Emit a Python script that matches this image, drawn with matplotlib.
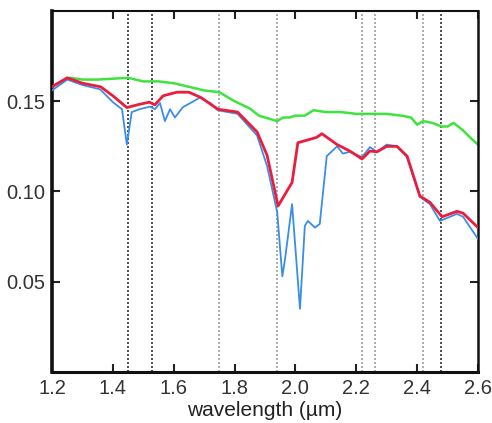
import matplotlib.pyplot as plt

plt.rcParams['font.family'] = ['Liberation Sans', 'DejaVu Sans']

# ====== spectra ======
green_wl = [1.20, 1.23, 1.26, 1.30, 1.35, 1.40, 1.45, 1.50, 1.55, 1.60, 1.65, 1.70,
            1.75, 1.80, 1.85, 1.88, 1.92, 1.94, 1.96, 1.98, 2.00, 2.03, 2.06, 2.10,
            2.15, 2.20, 2.25, 2.30, 2.35, 2.38, 2.40, 2.42, 2.45, 2.48, 2.50, 2.52,
            2.55, 2.58, 2.60]
green_val = [0.158, 0.161, 0.163, 0.162, 0.162, 0.1625, 0.163, 0.161, 0.161, 0.160,
             0.158, 0.156, 0.155, 0.150, 0.146, 0.142, 0.140, 0.139, 0.141, 0.141,
             0.142, 0.142, 0.145, 0.144, 0.144, 0.143, 0.143, 0.143, 0.142, 0.141,
             0.137, 0.139, 0.138, 0.136, 0.136, 0.138, 0.134, 0.129, 0.126]

red_wl = [1.20, 1.25, 1.30, 1.36, 1.40, 1.446, 1.48, 1.52, 1.538, 1.565, 1.61, 1.65,
          1.69, 1.745, 1.81, 1.874, 1.907, 1.943, 1.989, 2.008, 2.07, 2.087, 2.137,
          2.179, 2.219, 2.245, 2.268, 2.30, 2.334, 2.367, 2.409, 2.442, 2.482, 2.531,
          2.551, 2.60]
red_val = [0.158, 0.163, 0.160, 0.158, 0.153, 0.1465, 0.148, 0.1495, 0.148, 0.153,
           0.155, 0.155, 0.152, 0.1456, 0.144, 0.133, 0.120, 0.092, 0.105, 0.127,
           0.130, 0.132, 0.126, 0.1224, 0.118, 0.1224, 0.122, 0.125, 0.125, 0.1196,
           0.0975, 0.094, 0.086, 0.089, 0.088, 0.080]

blue_wl = [1.20, 1.25, 1.30, 1.358, 1.40, 1.43, 1.446, 1.462, 1.488, 1.522, 1.538,
           1.555, 1.571, 1.588, 1.604, 1.63, 1.66, 1.686, 1.72, 1.745, 1.81, 1.874,
           1.907, 1.94, 1.957, 1.966, 1.989, 2.015, 2.031, 2.041, 2.064, 2.08, 2.103,
           2.137, 2.156, 2.179, 2.219, 2.245, 2.268, 2.30, 2.334, 2.367, 2.409, 2.442,
           2.475, 2.531, 2.551, 2.60]
blue_val = [0.156, 0.162, 0.159, 0.1566, 0.1495, 0.1456, 0.126, 0.144, 0.1456, 0.147,
            0.1456, 0.149, 0.139, 0.1456, 0.141, 0.1467, 0.1495, 0.152, 0.149, 0.145,
            0.143, 0.131, 0.114, 0.0887, 0.053, 0.0627, 0.093, 0.035, 0.081, 0.0837,
            0.080, 0.082, 0.1196, 0.125, 0.121, 0.122, 0.119, 0.1246, 0.122, 0.126,
            0.125, 0.119, 0.097, 0.093, 0.0837, 0.0876, 0.086, 0.0737]

# absorption band markers
dark_bands = [1.45, 1.53, 2.48]
light_bands = [1.75, 1.94, 2.22, 2.26, 2.42]

fig = plt.figure(figsize=(4.92, 4.23), dpi=100)
ax = fig.add_axes([0.1057, 0.1206, 0.8658, 0.8534])

dots = (0, (1.2, 1.2))
for wl in light_bands:
    ax.axvline(wl, color='#a0a0a0', linestyle=dots, linewidth=1.2, zorder=1)
for wl in dark_bands:
    ax.axvline(wl, color='#303030', linestyle=dots, linewidth=1.2, zorder=1)

ax.plot(green_wl, green_val, color='#3ee43e', linewidth=1.8, zorder=2)
ax.plot(blue_wl, blue_val, color='#3a8ee8', linewidth=1.3, zorder=3)
ax.plot(red_wl, red_val, color='#ec1c3c', linewidth=2.0, zorder=4)

ax.set_xlim(1.2, 2.6)
ax.set_ylim(0.0, 0.2)
ax.set_xticks([1.2, 1.4, 1.6, 1.8, 2.0, 2.2, 2.4, 2.6])
ax.set_xticklabels(['1.2', '1.4', '1.6', '1.8', '2.0', '2.2', '2.4', '2.6'])
ax.set_yticks([0.05, 0.10, 0.15])
ax.set_yticklabels(['0.05', '0.10', '0.15'])
ax.tick_params(direction='in', length=6, width=1.5, top=True, right=True,
               labelsize=14.5, colors='#222222', labelcolor='#333333', pad=5)
ax.set_xlabel('wavelength (µm)', fontsize=15, color='#222222', labelpad=2)

ax.spines['left'].set_linewidth(2.6)
ax.spines['bottom'].set_linewidth(2.2)
ax.spines['top'].set_linewidth(1.5)
ax.spines['right'].set_linewidth(1.8)
for s in ax.spines.values():
    s.set_color('#111111')

fig.savefig('out.png', dpi=100)
